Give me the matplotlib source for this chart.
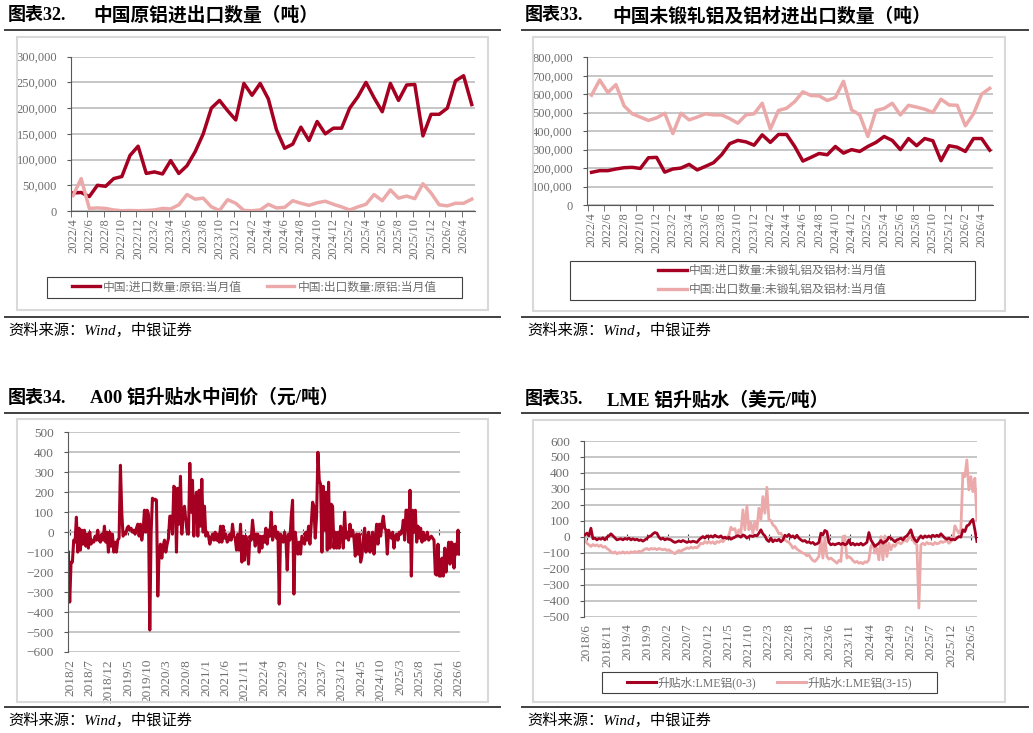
import numpy as np
import pandas as pd
import matplotlib
matplotlib.use("Agg")
import matplotlib.pyplot as plt
import matplotlib.dates as mdates
from matplotlib.patches import Rectangle
from matplotlib.lines import Line2D
from matplotlib.ticker import FuncFormatter

plt.rcParams["font.family"] = ["Liberation Serif", "Noto Sans CJK SC"]

W, H = 1033, 733
DARK = "#a50021"
PINK = "#eba9a9"
GRID = "#c6c6c6"
TXT = "#6e6e6e"
AXC = "#595959"

# ---- 图表32 / 33: 月度数据 2022/4 - 2026/5 ----
months = pd.period_range("2022-04", "2026-05", freq="M")
month_labels = [f"{p.year}/{p.month}" for p in months]

imp_alu = [35000, 36000, 28000, 50000, 48000, 63000, 67000, 108000, 126000,
           73000, 76000, 72000, 98000, 73000, 88000, 115000, 150000, 200000, 215000, 195000, 177000,
           248000, 225000, 248000, 218000, 158000, 122000, 130000, 163000, 137000, 174000, 150000, 161000,
           161000, 200000, 222000, 250000, 220000, 193000, 248000, 215000, 245000, 246000, 146000, 188000,
           188000, 200000, 253000, 263000, 207000]
exp_alu = [30000, 63000, 5000, 6000, 5000, 2000, 500, 1000, 500,
           1000, 2000, 5000, 4000, 12000, 32000, 23000, 25000, 8000, 1000, 22000, 15000,
           1000, 500, 2000, 13000, 6000, 7000, 20000, 15000, 11000, 16000, 19000, 13000,
           8000, 2000, 8000, 13000, 32000, 20000, 41000, 25000, 29000, 24000, 53000, 35000,
           12000, 10000, 15000, 15000, 23000]

imp_wrought = [177000, 186000, 186000, 195000, 202000, 204000, 198000, 256000, 258000,
               178000, 195000, 200000, 220000, 190000, 209000, 229000, 272000, 332000, 350000, 342000, 324000,
               380000, 339000, 382000, 382000, 317000, 238000, 258000, 279000, 272000, 317000, 281000, 300000,
               290000, 317000, 339000, 371000, 350000, 300000, 360000, 321000, 360000, 348000, 240000, 321000,
               313000, 290000, 360000, 360000, 297000]
exp_wrought = [595000, 677000, 609000, 652000, 537000, 494000, 476000, 458000, 472000,
               497000, 387000, 497000, 461000, 476000, 494000, 488000, 488000, 468000, 443000, 488000, 494000,
               551000, 411000, 512000, 524000, 560000, 613000, 593000, 591000, 566000, 582000, 670000, 515000,
               488000, 371000, 512000, 523000, 551000, 488000, 540000, 530000, 519000, 501000, 573000, 542000,
               540000, 429000, 494000, 600000, 632000]

# ---- 图表34: A00铝升贴水 (元/吨), 2018/1 - 2026/6 ----
a00_prem = [-100, -350, -150, -150, -40, -50, 75, -100, 20, -90,
            10, -60, 10, -70, -10, -80, 0, -60, -40, -50,
            -20, -40, 10, -40, -50, -10, -40, 30, -50, 0,
            -100, 0, -70, -10, -100, -50, -100, -40, -30, 335,
            100, -20, 0, -10, 20, 30, 10, 20, 0, 10,
            -10, 20, 40, -20, 40, -40, 10, 110, 0, 110,
            90, -490, 0, 170, 160, 165, 160, -320, -100, -60,
            -130, -70, -40, -100, -60, -30, 80, 80, -10, 230,
            220, -100, 220, 40, 280, -10, 100, 130, 60, 0,
            -10, 345, 100, 260, -20, 160, 200, -20, 210, 30,
            265, 0, 130, -20, 0, -20, -60, -30, -10, -40,
            0, -40, -10, -50, 30, -50, 30, -30, -10, -50,
            -40, -10, -40, 40, -20, -30, -90, -10, -90, 40,
            -150, -20, -140, -20, -60, -160, -20, -40, 60, -10,
            -70, -10, -10, -100, -20,
            -80, -20, -50, 20, -60, 10, -20, 100, -40, -10,
            30, -30, 0, -360, -10, -30, -50, 0, -30, -190,
            -10, -40, 80, 160, -310, 0, -60, -110, -50, -110,
            -20, -40, -60, 0, -40, 30, -60, 40, 150, 130,
            -30, 80, 400, 260, 240, -100, 230, 10, 200, -90,
            250, -80, 140, 130, -80, 0, -80, 0, -80, 30,
            0, -80, 100, -30, 0, -40, 40, -20, 10, -30,
            -120, -10, -110, -10, -150, -120, -30, 20, -100, -30,
            0, -100, -40, 0, -110, -40, 40, -60, 40, -20,
            40, 80, 20, 10, -110, 10, -10, -30, 0, -80,
            -20, -10, -40, 0, -10, 0, 60, -40, 110, 110,
            -50, 210, -220, 110, 0, 110, -50, 30, -30, 20,
            -50, 0, -40, -30, 0, -40, -30, -20, -30, -40,
            -210, -215, -60, -220, -220, -130, -220, -80, -200, -120,
            -50, -160, -50, -60, -180, -60, -110, 10, -110]
a00_dates = pd.date_range("2018-01-19", "2026-06-09", periods=len(a00_prem))
a00_ticks = pd.date_range("2018-02-01", "2026-06-01", freq="5MS")

# ---- 图表35: LME铝升贴水 (美元/吨), 2018/5 - 2026/6 ----
lme_03 = [12, 23, 6, 54, -12, -8, -19, -10, -15, -6,
          -19, -2, 6, 19, 6, -8, -19, -15, -12, -19,
          -10, -15, -8, -19, -12, -19, -15, -23, -19, -27,
          -19, -10, 2, 6, 19, 27, 23, -2, -15, -8,
          -19, -12, -15, -19, -29, -35, -31, -25, -31, -23,
          -29, -35, -29, -33, -27, -31, -35, -19, -8, 2,
          -8, 6, -2, 6, -2, 10, 2, -2, 6, -8,
          -2, -10, -2, -15, -8, -2, 6, 6, -2, 12,
          6, -8, 2, 6, 2, 10, 6, 23, 44, 19,
          6, -19, -29, -8, -31, -19, -25, -15,
          -31, -19, 10, 2, 15, -2, 6, -8, 10, -8,
          -19, -27, -23, -35, -31, -40, -35, -48, -44, -35,
          23, 12, 40, 33, -35, -50, -44, -50, -44, -40,
          -48, -40, -50, -44, -19, -50, -40, -52, -44, -50,
          -40, -52, -44, -35, 27, -19, -40, -60, -50, -40,
          -23, -40, -31, -23, -2, -8, -19, -31, -19, -15,
          -8, -19, -2, 6, 23, 44, 2, -19, -31, -10,
          6, -8, 6, -2, 6, -2, 10, 2, 10, 2,
          19, 6, -8, -15, -8, -19, -15, -19, -8, 2,
          -2, 44, 33, 69, 75, 96, 110, 44, -29]
lme_315 = [-19, -40, -50, -60, -48, -56, -50, -60, -52, -65,
           -60, -73, -81, -94, -102, -94, -106, -98, -102, -94,
           -102, -96, -102, -94, -98, -92, -98, -90, -94, -85,
           -77, -73, -81, -73, -77, -73, -81, -73, -77, -81,
           -77, -85, -81, -92, -98, -106, -94, -85, -92, -81,
           -77, -69, -73, -65, -71, -65, -69, -56, -40, -44,
           -29, -40, -29, -40, -31, -44, -29, -35, -23, -31,
           -15, -2, 10, 60, 44, 52, 6, 44, 23, 169,
           44, 194, 44, 90, 23, 96, 44, 179, 110, 252,
           148, 310, 106, 102, 75, 65, 44, 19,
           23, -2, -19, -29, -35, -50, -71, -60, -77, -85,
           -94, -102, -106, -119, -112, -133, -148, -154, -140, -123,
           -8, -133, -8, -123, -140, -133, -144, -154, -165, -148,
           -154, 2, 6, -133, -123, -133, -148, -160, -154, -165,
           -160, -169, -156, -160, -144, -60, -40, -102, -71, -144,
           2, -144, 6, -123, -40, -81, -50, -60, -40, -35,
           -44, -31, -19, -29, -8, 2, -19, -40, -50, -446,
           -50, -40, -50, -35, -44, -40, -50, -35, -44, -40,
           -29, -35, -29, -23, -40, -29, -19, 69, 44, 23,
           44, 398, 377, 481, 294, 377, 283, 367, 106]
lme_dates = pd.date_range("2018-05-19", "2026-06-13", periods=len(lme_03))
lme_ticks = pd.date_range("2018-06-01", "2026-05-01", freq="5MS")


def frect(x0, y0, x1, y1):
    return [x0 / W, 1 - y1 / H, (x1 - x0) / W, (y1 - y0) / H]


def hrule(fig, x0, x1, y):
    fig.add_artist(Line2D([x0 / W, x1 / W], [1 - y / H, 1 - y / H],
                          color="#404040", lw=1.4, transform=fig.transFigure))


def box(fig, x0, y0, x1, y1, ec, lw):
    fig.add_artist(Rectangle((x0 / W, 1 - y1 / H), (x1 - x0) / W, (y1 - y0) / H,
                             transform=fig.transFigure, fill=False, ec=ec, lw=lw))


def title(fig, x0, x1, y, num, text):
    fig.text(x0 / W, 1 - y / H, num, fontsize=13, fontweight="bold", va="center")
    fig.text(x1 / W, 1 - y / H, text, fontsize=13.5, fontweight="bold", va="center")


def source(fig, x, y):
    fig.text(x / W, 1 - y / H, "资料来源：Wind，中银证券", fontsize=11,
             style="italic", va="center")


def style(ax, fs):
    for s in ("top", "right"):
        ax.spines[s].set_visible(False)
    for s in ("left", "bottom"):
        ax.spines[s].set_color(AXC)
        ax.spines[s].set_linewidth(0.8)
    ax.yaxis.grid(True, color=GRID, lw=1.4)
    ax.set_axisbelow(True)
    ax.tick_params(colors=AXC, labelcolor=TXT, labelsize=fs, length=3, width=0.8)
    ax.tick_params(axis="y", pad=7)


def zero_axis(ax, ticks):
    lo, hi = ax.get_ylim()
    sec = ax.secondary_xaxis((0 - lo) / (hi - lo))
    sec.set_xticks(mdates.date2num(ticks))
    sec.set_xticklabels([])
    sec.tick_params(direction="inout", length=4, color="#404040", width=0.8)
    for sp in sec.spines.values():
        sp.set_color("#404040")
        sp.set_linewidth(0.8)


fig = plt.figure(figsize=(W / 100, H / 100), dpi=100)

# ================= 图表32 =================
title(fig, 8, 93, 15.5, "图表32.", "中国原铝进出口数量（吨）")
hrule(fig, 5, 500, 30)
box(fig, 17, 37, 488, 310, "#d9d9d9", 1.5)
ax1 = fig.add_axes(frect(71, 56.7, 475, 211))
x = np.arange(len(months))
ax1.plot(x, imp_alu, color=DARK, lw=2.5)
ax1.plot(x, exp_alu, color=PINK, lw=2.5)
ax1.set_xlim(-0.25, 49.4)
ax1.set_ylim(0, 300000)
ax1.set_yticks(np.arange(0, 300001, 50000))
ax1.yaxis.set_major_formatter(FuncFormatter(lambda v, p: f"{v:,.0f}"))
style(ax1, 9)
ax1.set_xticks(x[::2])
ax1.set_xticklabels(month_labels[::2], rotation=90)
ax1.set_xticks(x[::2] - 0.25, minor=True)
ax1.tick_params(axis="x", which="major", length=0, pad=5)
ax1.tick_params(axis="x", which="minor", length=4, color=AXC)
box(fig, 47, 277, 462, 298, "#404040", 0.8)
fig.legend(handles=[Line2D([], [], color=DARK, lw=2.4), Line2D([], [], color=PINK, lw=2.4)],
           labels=["中国:进口数量:原铝:当月值", "中国:出口数量:原铝:当月值"],
           loc="center", bbox_to_anchor=(254.5 / W, 1 - 287.5 / H), ncol=2, frameon=False,
           fontsize=8.5, labelcolor=TXT, handlelength=2.3, handletextpad=0.3,
           columnspacing=2.1)
hrule(fig, 5, 500, 317)
source(fig, 8, 330)

# ================= 图表33 =================
title(fig, 525, 612, 16, "图表33.", "中国未锻轧铝及铝材进出口数量（吨）")
hrule(fig, 522, 1028, 30)
box(fig, 533, 37, 1005, 311, "#d9d9d9", 1.5)
ax2 = fig.add_axes(frect(586.7, 57.3, 993, 205))
ax2.plot(x, imp_wrought, color=DARK, lw=2.5)
ax2.plot(x, exp_wrought, color=PINK, lw=2.5)
ax2.set_xlim(-0.6, 49.4)
ax2.set_ylim(0, 800000)
ax2.set_yticks(np.arange(0, 800001, 100000))
ax2.yaxis.set_major_formatter(FuncFormatter(lambda v, p: f"{v:,.0f}"))
style(ax2, 9)
ax2.set_xticks(x[::2])
ax2.set_xticklabels(month_labels[::2], rotation=90)
ax2.set_xticks(x[::2] - 0.5, minor=True)
ax2.tick_params(axis="x", which="major", length=0, pad=5)
ax2.tick_params(axis="x", which="minor", length=4, color=AXC)
box(fig, 570, 261, 975, 300, "#404040", 0.8)
fig.legend(handles=[Line2D([], [], color=DARK, lw=2.4), Line2D([], [], color=PINK, lw=2.4)],
           labels=["中国:进口数量:未锻轧铝及铝材:当月值", "中国:出口数量:未锻轧铝及铝材:当月值"],
           loc="center", bbox_to_anchor=(772.5 / W, 1 - 280.5 / H), ncol=1, frameon=False,
           fontsize=8.5, labelcolor=TXT, handlelength=2.45, handletextpad=0.2,
           labelspacing=0.55)
hrule(fig, 522, 1028, 317)
source(fig, 527, 330)

# ================= 图表34 =================
title(fig, 8, 90, 398, "图表34.", "A00 铝升贴水中间价（元/吨）")
hrule(fig, 5, 500, 413)
box(fig, 17, 419, 488, 702, "#d9d9d9", 1.5)
ax3 = fig.add_axes(frect(68, 432.3, 460, 652))
ax3.plot(a00_dates, a00_prem, color=DARK, lw=2.2)
ax3.set_xlim(pd.Timestamp("2018-01-16"), pd.Timestamp("2026-06-14"))
ax3.set_ylim(-600, 500)
ax3.set_yticks(np.arange(-600, 501, 100))
style(ax3, 9.5)
ax3.spines["bottom"].set_visible(False)
ax3.set_xticks(a00_ticks)
ax3.set_xticklabels([f"{d.year}/{d.month}" for d in a00_ticks], rotation=90)
ax3.tick_params(axis="x", length=0, pad=5)
zero_axis(ax3, a00_ticks)
hrule(fig, 5, 500, 707)
source(fig, 8, 720)

# ================= 图表35 =================
title(fig, 525, 607, 400, "图表35.", "LME 铝升贴水（美元/吨）")
hrule(fig, 522, 1028, 413)
box(fig, 533, 420, 1005, 702, "#d9d9d9", 1.5)
ax4 = fig.add_axes(frect(584, 441, 977, 616.7))
ax4.plot(lme_dates, lme_03, color=DARK, lw=2.0, zorder=3)
ax4.plot(lme_dates, lme_315, color=PINK, lw=2.0, zorder=2)
ax4.set_xlim(pd.Timestamp("2018-05-12"), pd.Timestamp("2026-06-14"))
ax4.set_ylim(-500, 600)
ax4.set_yticks(np.arange(-500, 601, 100))
style(ax4, 9.5)
ax4.spines["bottom"].set_visible(False)
ax4.set_xticks(lme_ticks)
ax4.set_xticklabels([f"{d.year}/{d.month}" for d in lme_ticks], rotation=90)
ax4.tick_params(axis="x", length=0, pad=5)
zero_axis(ax4, lme_ticks)
box(fig, 602, 672, 937, 693, "#404040", 0.8)
fig.legend(handles=[Line2D([], [], color=DARK, lw=2.2), Line2D([], [], color=PINK, lw=2.2)],
           labels=["升贴水:LME铝(0-3)", "升贴水:LME铝(3-15)"],
           loc="center", bbox_to_anchor=(769.5 / W, 1 - 682.5 / H), ncol=2, frameon=False,
           fontsize=8.5, labelcolor=TXT, handlelength=2.45, handletextpad=0.2,
           columnspacing=1.7)
hrule(fig, 522, 1028, 707)
source(fig, 527, 720)

fig.savefig("out.png", dpi=100)
